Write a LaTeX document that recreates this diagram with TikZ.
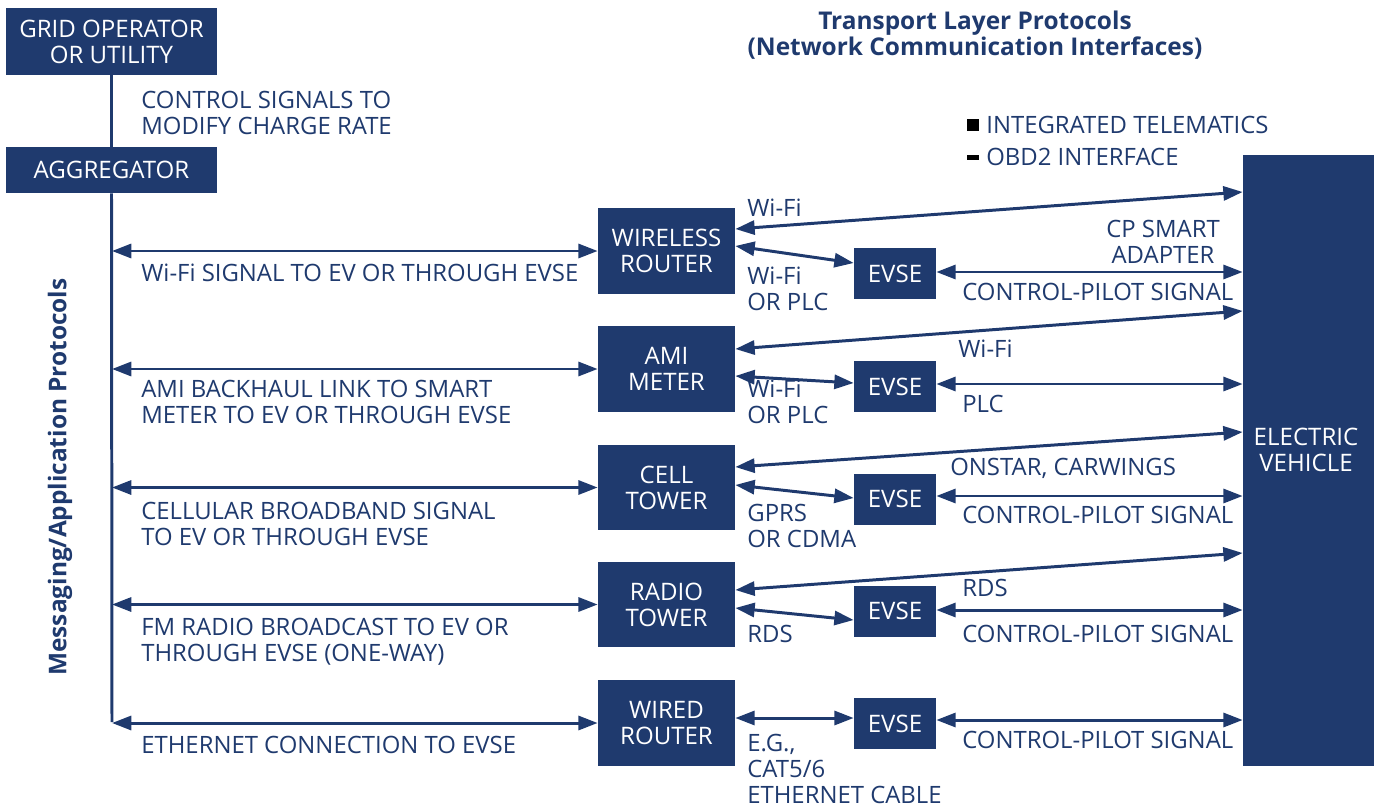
\documentclass[tikz,border=0pt]{standalone}
\usepackage{fontspec}
\setmainfont{Open Sans}
\usepackage{tikz}
\usepackage{xcolor}
\usetikzlibrary{arrows.meta, positioning}

\definecolor{navy}{RGB}{31,58,110}

\begin{document}
\begin{tikzpicture}[x=0.02cm, y=-0.02cm,
    box/.style={fill=navy, text=white, align=center, inner sep=0pt,
      font=\fontsize{13.7}{14.8}\selectfont},
    lbl/.style={text=navy, align=left, inner sep=0pt, anchor=west,
      font=\fontsize{13.6}{14.8}\selectfont},
    link/.style={navy, line width=1.7pt},
    dbl/.style={link, {Triangle[length=11pt,width=8pt]}-{Triangle[length=11pt,width=8pt]}},
    head/.style={text=navy, align=center, inner sep=0pt,
      font=\fontsize{13.9}{14.8}\selectfont\bfseries}]
  \useasboundingbox (0,0) rectangle (1376,808);

  % Titles
  \node[head] (ttl) at (975,35) {Transport Layer Protocols\\(Network Communication Interfaces)};
  \node[head, rotate=90] (vttl) at (60,477) {Messaging/Application Protocols};

  % Legend
  \node[fill=black, minimum width=0.24cm, minimum height=0.24cm, inner sep=0pt] (sq1) at (973,125) {};
  \node[lbl] (leg1) at (986,125) {INTEGRATED TELEMATICS};
  \node[fill=black, minimum width=0.24cm, minimum height=0.1cm, inner sep=0pt] (sq2) at (973,157.5) {};
  \node[lbl] (leg2) at (986,157) {OBD2 INTERFACE};

  % Top of the chain
  \node[box, minimum width=4.22cm, minimum height=1.34cm] (grid) at (111.5,41.5) {GRID OPERATOR\\OR UTILITY};
  \node[box, minimum width=4.22cm, minimum height=0.92cm] (agg) at (111.5,170) {AGGREGATOR};
  \node[lbl] (ctl) at (141,113) {CONTROL SIGNALS TO\\MODIFY CHARGE RATE};
  \draw[link] (grid) -- (agg);
  \coordinate (bus) at (112,722);
  \draw[link] (agg.south) -- (bus);

  % Middle column
  \node[box, minimum width=2.74cm, minimum height=1.72cm] (wr) at (666.5,251) {WIRELESS\\ROUTER};
  \node[box, minimum width=2.74cm, minimum height=1.72cm] (ami) at (666.5,369) {AMI\\METER};
  \node[box, minimum width=2.74cm, minimum height=1.72cm] (cell) at (666.5,487.5) {CELL\\TOWER};
  \node[box, minimum width=2.74cm, minimum height=1.72cm] (radio) at (666.5,604.5) {RADIO\\TOWER};
  \node[box, minimum width=2.74cm, minimum height=1.72cm] (wired) at (666.5,723) {WIRED\\ROUTER};

  % EVSE column
  \node[box, minimum width=1.64cm, minimum height=1.02cm] (e1) at (895,273.5) {EVSE};
  \node[box, minimum width=1.64cm, minimum height=1.02cm] (e2) at (895,386.5) {EVSE};
  \node[box, minimum width=1.64cm, minimum height=1.02cm] (e3) at (895,499) {EVSE};
  \node[box, minimum width=1.64cm, minimum height=1.02cm] (e4) at (895,611) {EVSE};
  \node[box, minimum width=1.64cm, minimum height=1.02cm] (e5) at (895,723.5) {EVSE};

  % Vehicle
  \node[box, minimum width=2.62cm, minimum height=12.22cm] (ev) at (1308.5,460.5) {};
  \node[box, fill=none] (evtxt) at (1306,450) {ELECTRIC\\VEHICLE};

  % Backhaul links
  \foreach \n in {wr, ami, cell, radio, wired}
    \draw[dbl] (bus |- \n.west) -- (\n.west);
  \node[lbl] (l1) at (141,273) {Wi-Fi SIGNAL TO EV OR THROUGH EVSE};
  \node[lbl] (l2) at (141,401.5) {AMI BACKHAUL LINK TO SMART\\METER TO EV OR THROUGH EVSE};
  \node[lbl] (l3) at (141,523.5) {CELLULAR BROADBAND SIGNAL\\TO EV OR THROUGH EVSE};
  \node[lbl] (l4) at (141,641.5) {FM RADIO BROADCAST TO EV OR\\THROUGH EVSE (ONE-WAY)};
  \node[lbl] (l5) at (141,745) {ETHERNET CONNECTION TO EVSE};

  % Direct links to the vehicle
  \draw[dbl] (wr.east |- 0,229) -- (ev.west |- 0,192);
  \draw[dbl] (ami.east |- 0,349) -- (ev.west |- 0,311);
  \draw[dbl] (cell.east |- 0,467) -- (ev.west |- 0,432);
  \draw[dbl] (radio.east |- 0,590) -- (ev.west |- 0,553);

  % Links to the EVSE
  \draw[dbl] (wr.east |- 0,246) -- (e1.west |- 0,263);
  \draw[dbl] (ami.east |- 0,376) -- (e2.west |- 0,383);
  \draw[dbl] (cell.east |- 0,485) -- (e3.west |- 0,498);
  \draw[dbl] (radio.east |- 0,608) -- (e4.west |- 0,620);
  \draw[dbl] (wired.east |- 0,718) -- (e5.west |- 0,718);

  % EVSE to vehicle
  \draw[dbl] (e1.east |- 0,272) -- (ev.west |- 0,272);
  \draw[dbl] (e2.east |- 0,384) -- (ev.west |- 0,384);
  \draw[dbl] (e3.east |- 0,496) -- (ev.west |- 0,496);
  \draw[dbl] (e4.east |- 0,610) -- (ev.west |- 0,610);
  \draw[dbl] (e5.east |- 0,720) -- (ev.west |- 0,720);

  % Row labels
  \node[lbl] (a1) at (747,208) {Wi-Fi};
  \node[lbl] (b1) at (747,289) {Wi-Fi\\OR PLC};
  \node[lbl, align=center, anchor=center] (c1) at (1163,242) {CP SMART\\ADAPTER};
  \node[lbl] (d1) at (962,292) {CONTROL-PILOT SIGNAL};

  \node[lbl] (a2) at (958,349) {Wi-Fi};
  \node[lbl] (b2) at (747,401.5) {Wi-Fi\\OR PLC};
  \node[lbl] (d2) at (962,404) {PLC};

  \node[lbl] (a3) at (950,468) {ONSTAR, CARWINGS};
  \node[lbl] (b3) at (747,525.5) {GPRS\\OR CDMA};
  \node[lbl] (d3) at (962,515) {CONTROL-PILOT SIGNAL};

  \node[lbl] (a4) at (962,588) {RDS};
  \node[lbl] (b4) at (747,634) {RDS};
  \node[lbl] (d4) at (962,634) {CONTROL-PILOT SIGNAL};

  \node[lbl] (b5) at (747,769) {E.G.,\\CAT5/6\\ETHERNET CABLE};
  \node[lbl] (d5) at (962,740) {CONTROL-PILOT SIGNAL};
\end{tikzpicture}
\end{document}
